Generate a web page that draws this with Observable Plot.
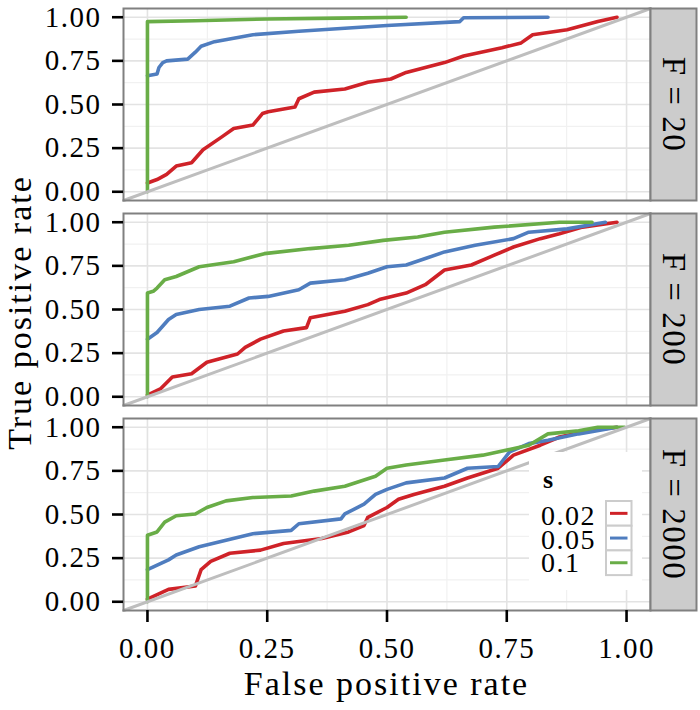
<!DOCTYPE html>
<html>
<head>
<meta charset="utf-8">
<script src="https://cdn.jsdelivr.net/npm/d3@7"></script>
<script src="https://cdn.jsdelivr.net/npm/@observablehq/plot@0.6"></script>
<style>
  html, body { margin: 0; padding: 0; background: #fff; }
  #wrap { position: relative; width: 700px; height: 710px; }
  #wrap svg.overlay { position: absolute; left: 0; top: 0; pointer-events: none; }
</style>
</head>
<body>
<div id="wrap"></div>
<script>
// ---------- data ----------
const F_levels = ["20", "200", "2000"];
const s_levels = ["0.02", "0.05", "0.1"];
const s_colors = ["#CF2228", "#4F7DBF", "#69AD47"];
const xTicks = [0, 0.25, 0.5, 0.75, 1];
const yTicks = [0, 0.25, 0.5, 0.75, 1];
const minorTicks = [0.125, 0.375, 0.625, 0.875];
const xDomain = [-0.05, 1.05];
const yDomain = [-0.05, 1.05];

// ROC curves: [false positive rate, true positive rate]
const roc_F20_s002 = [[0,0.05],[0.02,0.07],[0.04,0.10],[0.06,0.147],[0.092,0.166],[0.116,0.241],[0.156,0.316],[0.18,0.363],[0.22,0.382],[0.24,0.448],[0.252,0.458],[0.308,0.486],[0.316,0.533],[0.348,0.571],[0.412,0.589],[0.46,0.627],[0.508,0.646],[0.54,0.684],[0.62,0.74],[0.66,0.778],[0.74,0.825],[0.78,0.853],[0.804,0.90],[0.876,0.928],[0.94,0.976],[0.98,1.0]];
const roc_F20_s005 = [[0,0.665],[0.02,0.675],[0.024,0.712],[0.032,0.74],[0.04,0.75],[0.084,0.76],[0.1,0.80],[0.112,0.834],[0.14,0.86],[0.22,0.90],[0.316,0.92],[0.5,0.953],[0.652,0.975],[0.66,0.997],[0.836,1.0]];
const roc_F20_s01  = [[0,0],[0,0.975],[0.1,0.98],[0.25,0.99],[0.4,0.995],[0.54,1.0]];

const roc_F200_s002 = [[0,0.01],[0.028,0.047],[0.052,0.113],[0.092,0.132],[0.124,0.198],[0.188,0.245],[0.204,0.283],[0.236,0.33],[0.284,0.377],[0.332,0.396],[0.34,0.453],[0.412,0.49],[0.46,0.528],[0.484,0.557],[0.54,0.594],[0.58,0.642],[0.62,0.726],[0.676,0.755],[0.724,0.811],[0.764,0.858],[0.82,0.906],[0.86,0.934],[0.908,0.972],[0.98,1.0]];
const roc_F200_s005 = [[0,0.33],[0.02,0.368],[0.044,0.443],[0.06,0.472],[0.108,0.50],[0.172,0.519],[0.212,0.566],[0.252,0.575],[0.316,0.613],[0.34,0.651],[0.412,0.67],[0.46,0.708],[0.5,0.745],[0.54,0.755],[0.58,0.792],[0.62,0.83],[0.684,0.868],[0.764,0.906],[0.796,0.943],[0.876,0.962],[0.956,1.0]];
const roc_F200_s01  = [[0,0],[0,0.594],[0.012,0.604],[0.02,0.623],[0.036,0.67],[0.06,0.689],[0.108,0.745],[0.18,0.774],[0.244,0.82],[0.34,0.849],[0.42,0.868],[0.492,0.896],[0.564,0.915],[0.62,0.943],[0.724,0.972],[0.86,1.0],[0.928,1.0]];

const roc_F2000_s002 = [[0,0.015],[0.044,0.071],[0.1,0.09],[0.112,0.184],[0.132,0.231],[0.172,0.278],[0.236,0.296],[0.284,0.334],[0.364,0.362],[0.42,0.40],[0.452,0.437],[0.46,0.484],[0.5,0.54],[0.524,0.587],[0.556,0.615],[0.62,0.662],[0.668,0.709],[0.732,0.765],[0.764,0.84],[0.82,0.897],[0.86,0.944],[0.924,0.981],[0.98,1.0]];
const roc_F2000_s005 = [[0,0.184],[0.044,0.24],[0.06,0.268],[0.108,0.315],[0.164,0.353],[0.22,0.39],[0.3,0.409],[0.316,0.447],[0.404,0.475],[0.412,0.503],[0.452,0.559],[0.476,0.615],[0.5,0.644],[0.54,0.681],[0.62,0.709],[0.668,0.765],[0.732,0.775],[0.756,0.859],[0.796,0.906],[0.836,0.925],[0.9,0.962],[0.98,1.0]];
const roc_F2000_s01  = [[0,0],[0,0.381],[0.02,0.40],[0.036,0.456],[0.06,0.493],[0.1,0.503],[0.124,0.54],[0.164,0.578],[0.22,0.597],[0.3,0.606],[0.348,0.634],[0.412,0.662],[0.476,0.719],[0.5,0.765],[0.54,0.784],[0.62,0.812],[0.7,0.84],[0.748,0.868],[0.796,0.897],[0.836,0.962],[0.9,0.98],[0.94,1.0],[0.996,1.0]];

const curves = [
  {F: "20", s: "0.02", pts: roc_F20_s002},
  {F: "20", s: "0.05", pts: roc_F20_s005},
  {F: "20", s: "0.1",  pts: roc_F20_s01},
  {F: "200", s: "0.02", pts: roc_F200_s002},
  {F: "200", s: "0.05", pts: roc_F200_s005},
  {F: "200", s: "0.1",  pts: roc_F200_s01},
  {F: "2000", s: "0.02", pts: roc_F2000_s002},
  {F: "2000", s: "0.05", pts: roc_F2000_s005},
  {F: "2000", s: "0.1",  pts: roc_F2000_s01}
];
const rows = curves.flatMap(c => c.pts.map(([fpr, tpr]) => ({F: c.F, s: c.s, fpr, tpr})));
const diag = [[xDomain[0], yDomain[0]], [xDomain[1], yDomain[1]]];

// ---------- layout ----------
const W = 700, H = 710;
const mL = 123, mR = 50, mT = 8, mB = 99;
const panelW = W - mL - mR;
const stripW = 46;
const serif = "'Liberation Serif', 'Times New Roman', serif";

const fmt = d3.format(".2f");

const plot = Plot.plot({
  width: W,
  height: H,
  marginLeft: mL,
  marginRight: mR,
  marginTop: mT,
  marginBottom: mB,
  style: {fontFamily: serif, fontSize: "29px", letterSpacing: "1.5px", color: "#000", background: "#fff", overflow: "visible"},
  x: {domain: xDomain},
  y: {domain: yDomain},
  fy: {domain: F_levels, axis: null, paddingInner: 0.0625, paddingOuter: 0},
  color: {domain: s_levels, range: s_colors},
  marks: [
    Plot.frame({fill: "#fff"}),
    Plot.ruleX(minorTicks, {stroke: "#f1f1f1", strokeWidth: 1.2}),
    Plot.ruleY(minorTicks, {stroke: "#f1f1f1", strokeWidth: 1.2}),
    Plot.ruleX(xTicks, {stroke: "#e3e3e3", strokeWidth: 1.6}),
    Plot.ruleY(yTicks, {stroke: "#e3e3e3", strokeWidth: 1.6}),
    Plot.line(rows, {x: "fpr", y: "tpr", fy: "F", z: "s", stroke: "s", strokeWidth: 3.6}),
    Plot.line(diag, {x: d => d[0], y: d => d[1], stroke: "#bebebe", strokeWidth: 3}),
    Plot.frame({stroke: "#808080", strokeWidth: 2}),
    // facet strips
    Plot.frame({fill: "#cccccc", stroke: "#808080", strokeWidth: 2, insetLeft: panelW, insetRight: -stripW}),
    Plot.text(F_levels, {fy: d => d, text: d => `F = ${d}`, frameAnchor: "right", textAnchor: "middle", lineAnchor: "middle", dx: stripW / 2, rotate: 90, fontSize: 33, fill: "#000"}),
    Plot.axisY({ticks: yTicks, tickFormat: fmt, tickSize: 11, tickPadding: 11, strokeWidth: 2.6, label: null}),
    Plot.axisX({ticks: xTicks, tickFormat: fmt, tickSize: 12, tickPadding: 15, strokeWidth: 2.6, label: null})
  ]
});

const wrap = document.getElementById("wrap");
wrap.appendChild(plot);

// ---------- titles & legend (overlay) ----------
const ov = d3.select(wrap).append("svg")
  .attr("class", "overlay")
  .attr("width", W).attr("height", H)
  .attr("font-family", serif);

ov.append("text")
  .attr("x", mL + panelW / 2).attr("y", 695)
  .attr("text-anchor", "middle")
  .attr("font-size", 34).attr("letter-spacing", "2px")
  .text("False positive rate");

ov.append("text")
  .attr("transform", `translate(31, ${(mT + H - mB) / 2 + 3}) rotate(-90)`)
  .attr("text-anchor", "middle")
  .attr("font-size", 34).attr("letter-spacing", "2px")
  .text("True positive rate");

// legend inside bottom panel
const lg = ov.append("g");
lg.append("rect").attr("x", 529).attr("y", 452).attr("width", 113).attr("height", 138).attr("fill", "#fff");
lg.append("text").attr("x", 543).attr("y", 488).attr("font-size", 26).attr("font-weight", "bold").text("s");
const keyX = 606, keyY = 501, keyW = 25.5, keyH = 24.7;
s_levels.forEach((s, i) => {
  lg.append("text").attr("x", 541).attr("y", 525 + i * 23.5)
    .attr("font-size", 28).attr("letter-spacing", "1.5px").text(s);
  lg.append("rect").attr("x", keyX).attr("y", keyY + i * keyH).attr("width", keyW).attr("height", keyH)
    .attr("fill", "#fff").attr("stroke", "#cccccc").attr("stroke-width", 2);
  lg.append("line").attr("x1", keyX + 4).attr("x2", keyX + keyW - 4)
    .attr("y1", keyY + i * keyH + keyH / 2).attr("y2", keyY + i * keyH + keyH / 2)
    .attr("stroke", s_colors[i]).attr("stroke-width", 3);
});
</script>
</body>
</html>
